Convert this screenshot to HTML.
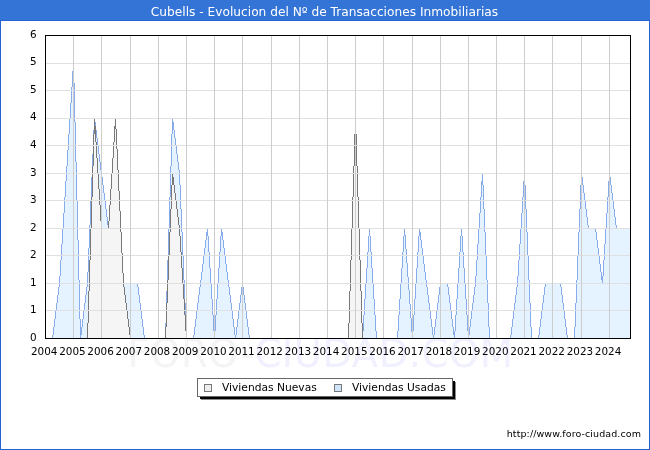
<!DOCTYPE html>
<html lang="es"><head><meta charset="utf-8"><title>Cubells - Evolucion del Nº de Transacciones Inmobiliarias</title>
<style>html,body{margin:0;padding:0;background:#fff}body{width:650px;height:450px;overflow:hidden}svg{display:block}text{font-family:"DejaVu Sans","Liberation Sans",sans-serif}</style>
</head><body>
<svg width="650" height="450" viewBox="0 0 650 450">
<rect x="0" y="0" width="650" height="450" fill="#ffffff"/>
<g font-size="38.5" letter-spacing="0.5"><text x="127.5" y="366.9"><tspan fill="#f4f4f6">FORO-</tspan><tspan fill="#f0f0ff">CIUDAD.COM</tspan></text></g>
<rect x="0" y="0" width="650" height="20" fill="#3574d7"/>
<rect x="0.5" y="20.5" width="649" height="429" fill="none" stroke="#2464d4" stroke-width="1" shape-rendering="crispEdges"/>
<text x="324.5" y="15.5" font-size="12.2" fill="#ffffff" text-anchor="middle">Cubells - Evolucion del Nº de Transacciones Inmobiliarias</text>
<g shape-rendering="crispEdges">
<path d="M52 335h1v3h-1zM53 327h1v11h-1zM54 319h1v19h-1zM55 311h1v27h-1zM56 303h1v35h-1zM57 295h1v43h-1zM58 287h1v51h-1zM59 276h1v62h-1zM60 260h1v78h-1zM61 244h1v94h-1zM62 228h1v110h-1zM63 213h1v125h-1zM64 197h1v141h-1zM65 181h1v157h-1zM66 166h1v172h-1zM67 150h1v188h-1zM68 134h1v204h-1zM69 118h1v220h-1zM70 103h1v235h-1zM71 87h1v251h-1zM72 71h1v267h-1zM73 63h1v275h-1zM74 83h1v255h-1zM75 122h1v216h-1zM76 162h1v176h-1zM77 201h1v137h-1zM78 240h1v98h-1zM79 280h1v58h-1zM80 319h1v19h-1zM81 327h1v11h-1zM82 319h1v19h-1zM83 311h1v27h-1zM84 303h1v35h-1zM85 295h1v43h-1zM86 287h1v51h-1zM87 272h1v66h-1zM88 248h1v90h-1zM89 225h1v113h-1zM90 201h1v137h-1zM91 177h1v161h-1zM92 154h1v184h-1zM93 130h1v208h-1zM94 118h1v220h-1zM95 122h1v216h-1zM96 130h1v208h-1zM97 138h1v200h-1zM98 146h1v192h-1zM99 154h1v184h-1zM100 162h1v176h-1zM101 170h1v168h-1zM102 177h1v161h-1zM103 185h1v153h-1zM104 193h1v145h-1zM105 201h1v137h-1zM106 209h1v129h-1zM107 217h1v121h-1zM108 225h1v113h-1zM109 228h1v110h-1zM110 228h1v110h-1zM111 228h1v110h-1zM112 228h1v110h-1zM113 228h1v110h-1zM114 228h1v110h-1zM115 228h1v110h-1zM116 232h1v106h-1zM117 239h1v99h-1zM118 246h1v92h-1zM119 253h1v85h-1zM120 259h1v79h-1zM121 266h1v72h-1zM122 273h1v65h-1zM123 280h1v58h-1zM124 283h1v55h-1zM125 283h1v55h-1zM126 283h1v55h-1zM127 283h1v55h-1zM128 283h1v55h-1zM129 283h1v55h-1zM130 283h1v55h-1zM131 283h1v55h-1zM132 283h1v55h-1zM133 283h1v55h-1zM134 283h1v55h-1zM135 283h1v55h-1zM136 283h1v55h-1zM137 283h1v55h-1zM138 287h1v51h-1zM139 295h1v43h-1zM140 303h1v35h-1zM141 311h1v27h-1zM142 319h1v19h-1zM143 327h1v11h-1zM144 335h1v3h-1zM165 323h1v15h-1zM166 291h1v47h-1zM167 260h1v78h-1zM168 228h1v110h-1zM169 197h1v141h-1zM170 166h1v172h-1zM171 134h1v204h-1zM172 118h1v220h-1zM173 122h1v216h-1zM174 130h1v208h-1zM175 138h1v200h-1zM176 146h1v192h-1zM177 154h1v184h-1zM178 162h1v176h-1zM179 170h1v168h-1zM180 185h1v153h-1zM181 209h1v129h-1zM182 232h1v106h-1zM183 256h1v82h-1zM184 280h1v58h-1zM185 303h1v35h-1zM186 327h1v11h-1zM193 335h1v3h-1zM194 327h1v11h-1zM195 319h1v19h-1zM196 311h1v27h-1zM197 303h1v35h-1zM198 295h1v43h-1zM199 287h1v51h-1zM200 280h1v58h-1zM201 272h1v66h-1zM202 264h1v74h-1zM203 256h1v82h-1zM204 248h1v90h-1zM205 240h1v98h-1zM206 232h1v106h-1zM207 228h1v110h-1zM208 236h1v102h-1zM209 252h1v86h-1zM210 268h1v70h-1zM211 283h1v55h-1zM212 299h1v39h-1zM213 315h1v23h-1zM214 331h1v7h-1zM215 315h1v23h-1zM216 299h1v39h-1zM217 283h1v55h-1zM218 268h1v70h-1zM219 252h1v86h-1zM220 236h1v102h-1zM221 228h1v110h-1zM222 232h1v106h-1zM223 240h1v98h-1zM224 248h1v90h-1zM225 256h1v82h-1zM226 264h1v74h-1zM227 272h1v66h-1zM228 280h1v58h-1zM229 287h1v51h-1zM230 295h1v43h-1zM231 303h1v35h-1zM232 311h1v27h-1zM233 319h1v19h-1zM234 327h1v11h-1zM235 335h1v3h-1zM236 327h1v11h-1zM237 319h1v19h-1zM238 311h1v27h-1zM239 303h1v35h-1zM240 295h1v43h-1zM241 287h1v51h-1zM242 283h1v55h-1zM243 287h1v51h-1zM244 295h1v43h-1zM245 303h1v35h-1zM246 311h1v27h-1zM247 319h1v19h-1zM248 327h1v11h-1zM249 335h1v3h-1zM362 331h1v7h-1zM363 315h1v23h-1zM364 299h1v39h-1zM365 283h1v55h-1zM366 268h1v70h-1zM367 252h1v86h-1zM368 236h1v102h-1zM369 228h1v110h-1zM370 236h1v102h-1zM371 252h1v86h-1zM372 268h1v70h-1zM373 283h1v55h-1zM374 299h1v39h-1zM375 315h1v23h-1zM376 331h1v7h-1zM397 331h1v7h-1zM398 315h1v23h-1zM399 299h1v39h-1zM400 283h1v55h-1zM401 268h1v70h-1zM402 252h1v86h-1zM403 236h1v102h-1zM404 228h1v110h-1zM405 235h1v103h-1zM406 249h1v89h-1zM407 263h1v75h-1zM408 277h1v61h-1zM409 290h1v48h-1zM410 304h1v34h-1zM411 318h1v20h-1zM412 331h1v7h-1zM413 315h1v23h-1zM414 299h1v39h-1zM415 283h1v55h-1zM416 268h1v70h-1zM417 252h1v86h-1zM418 236h1v102h-1zM419 228h1v110h-1zM420 232h1v106h-1zM421 240h1v98h-1zM422 248h1v90h-1zM423 256h1v82h-1zM424 264h1v74h-1zM425 272h1v66h-1zM426 280h1v58h-1zM427 287h1v51h-1zM428 295h1v43h-1zM429 303h1v35h-1zM430 311h1v27h-1zM431 319h1v19h-1zM432 327h1v11h-1zM433 335h1v3h-1zM434 327h1v11h-1zM435 319h1v19h-1zM436 311h1v27h-1zM437 303h1v35h-1zM438 295h1v43h-1zM439 287h1v51h-1zM440 283h1v55h-1zM441 283h1v55h-1zM442 283h1v55h-1zM443 283h1v55h-1zM444 283h1v55h-1zM445 283h1v55h-1zM446 283h1v55h-1zM447 283h1v55h-1zM448 287h1v51h-1zM449 295h1v43h-1zM450 303h1v35h-1zM451 311h1v27h-1zM452 319h1v19h-1zM453 327h1v11h-1zM454 331h1v7h-1zM455 315h1v23h-1zM456 299h1v39h-1zM457 283h1v55h-1zM458 268h1v70h-1zM459 252h1v86h-1zM460 236h1v102h-1zM461 228h1v110h-1zM462 236h1v102h-1zM463 252h1v86h-1zM464 268h1v70h-1zM465 283h1v55h-1zM466 299h1v39h-1zM467 315h1v23h-1zM468 331h1v7h-1zM469 327h1v11h-1zM470 319h1v19h-1zM471 311h1v27h-1zM472 303h1v35h-1zM473 295h1v43h-1zM474 287h1v51h-1zM475 276h1v62h-1zM476 260h1v78h-1zM477 244h1v94h-1zM478 228h1v110h-1zM479 213h1v125h-1zM480 197h1v141h-1zM481 181h1v157h-1zM482 173h1v165h-1zM483 185h1v153h-1zM484 209h1v129h-1zM485 232h1v106h-1zM486 256h1v82h-1zM487 280h1v58h-1zM488 303h1v35h-1zM489 327h1v11h-1zM510 335h1v3h-1zM511 327h1v11h-1zM512 319h1v19h-1zM513 311h1v27h-1zM514 303h1v35h-1zM515 295h1v43h-1zM516 287h1v51h-1zM517 276h1v62h-1zM518 260h1v78h-1zM519 244h1v94h-1zM520 228h1v110h-1zM521 213h1v125h-1zM522 197h1v141h-1zM523 181h1v157h-1zM524 173h1v165h-1zM525 185h1v153h-1zM526 209h1v129h-1zM527 232h1v106h-1zM528 256h1v82h-1zM529 280h1v58h-1zM530 303h1v35h-1zM531 327h1v11h-1zM538 335h1v3h-1zM539 327h1v11h-1zM540 319h1v19h-1zM541 311h1v27h-1zM542 303h1v35h-1zM543 295h1v43h-1zM544 287h1v51h-1zM545 283h1v55h-1zM546 283h1v55h-1zM547 283h1v55h-1zM548 283h1v55h-1zM549 283h1v55h-1zM550 283h1v55h-1zM551 283h1v55h-1zM552 283h1v55h-1zM553 283h1v55h-1zM554 283h1v55h-1zM555 283h1v55h-1zM556 283h1v55h-1zM557 283h1v55h-1zM558 283h1v55h-1zM559 283h1v55h-1zM560 283h1v55h-1zM561 287h1v51h-1zM562 295h1v43h-1zM563 303h1v35h-1zM564 311h1v27h-1zM565 319h1v19h-1zM566 327h1v11h-1zM567 335h1v3h-1zM574 327h1v11h-1zM575 303h1v35h-1zM576 280h1v58h-1zM577 256h1v82h-1zM578 232h1v106h-1zM579 209h1v129h-1zM580 185h1v153h-1zM581 173h1v165h-1zM582 177h1v161h-1zM583 185h1v153h-1zM584 193h1v145h-1zM585 201h1v137h-1zM586 209h1v129h-1zM587 217h1v121h-1zM588 225h1v113h-1zM589 228h1v110h-1zM590 228h1v110h-1zM591 228h1v110h-1zM592 228h1v110h-1zM593 228h1v110h-1zM594 228h1v110h-1zM595 228h1v110h-1zM596 232h1v106h-1zM597 240h1v98h-1zM598 248h1v90h-1zM599 256h1v82h-1zM600 264h1v74h-1zM601 272h1v66h-1zM602 276h1v62h-1zM603 260h1v78h-1zM604 244h1v94h-1zM605 228h1v110h-1zM606 213h1v125h-1zM607 197h1v141h-1zM608 181h1v157h-1zM609 173h1v165h-1zM610 177h1v161h-1zM611 185h1v153h-1zM612 193h1v145h-1zM613 201h1v137h-1zM614 209h1v129h-1zM615 217h1v121h-1zM616 225h1v113h-1zM617 228h1v110h-1zM618 228h1v110h-1zM619 228h1v110h-1zM620 228h1v110h-1zM621 228h1v110h-1zM622 228h1v110h-1zM623 228h1v110h-1zM624 228h1v110h-1zM625 228h1v110h-1zM626 228h1v110h-1zM627 228h1v110h-1zM628 228h1v110h-1zM629 228h1v110h-1zM630 228h1v110h-1z" fill="#e5f2ff"/>
<path d="M52 335h1v4h-1zM53 327h1v8h-1zM54 319h1v8h-1zM55 311h1v8h-1zM56 303h1v8h-1zM57 295h1v8h-1zM58 287h1v8h-1zM59 276h1v11h-1zM60 260h1v16h-1zM61 244h1v16h-1zM62 228h1v16h-1zM63 213h1v15h-1zM64 197h1v16h-1zM65 181h1v16h-1zM66 166h1v15h-1zM67 150h1v16h-1zM68 134h1v16h-1zM69 118h1v16h-1zM70 103h1v15h-1zM71 87h1v16h-1zM72 71h1v16h-1zM73 63h1v20h-1zM74 83h1v39h-1zM75 122h1v40h-1zM76 162h1v39h-1zM77 201h1v39h-1zM78 240h1v40h-1zM79 280h1v39h-1zM80 319h1v20h-1zM81 327h1v8h-1zM82 319h1v8h-1zM83 311h1v8h-1zM84 303h1v8h-1zM85 295h1v8h-1zM86 287h1v8h-1zM87 272h1v15h-1zM88 248h1v24h-1zM89 225h1v23h-1zM90 201h1v24h-1zM91 177h1v24h-1zM92 154h1v23h-1zM93 130h1v24h-1zM94 118h1v12h-1zM95 122h1v8h-1zM96 130h1v8h-1zM97 138h1v8h-1zM98 146h1v8h-1zM99 154h1v8h-1zM100 162h1v8h-1zM101 170h1v7h-1zM102 177h1v8h-1zM103 185h1v8h-1zM104 193h1v8h-1zM105 201h1v8h-1zM106 209h1v8h-1zM107 217h1v8h-1zM108 225h1v4h-1zM109 228h1v1h-1zM110 228h1v1h-1zM111 228h1v1h-1zM112 228h1v1h-1zM113 228h1v1h-1zM114 228h1v1h-1zM115 228h1v4h-1zM116 232h1v7h-1zM117 239h1v7h-1zM118 246h1v7h-1zM119 253h1v6h-1zM120 259h1v7h-1zM121 266h1v7h-1zM122 273h1v7h-1zM123 280h1v4h-1zM124 283h1v1h-1zM125 283h1v1h-1zM126 283h1v1h-1zM127 283h1v1h-1zM128 283h1v1h-1zM129 283h1v1h-1zM130 283h1v1h-1zM131 283h1v1h-1zM132 283h1v1h-1zM133 283h1v1h-1zM134 283h1v1h-1zM135 283h1v1h-1zM136 283h1v1h-1zM137 283h1v4h-1zM138 287h1v8h-1zM139 295h1v8h-1zM140 303h1v8h-1zM141 311h1v8h-1zM142 319h1v8h-1zM143 327h1v8h-1zM144 335h1v4h-1zM165 323h1v16h-1zM166 291h1v32h-1zM167 260h1v31h-1zM168 228h1v32h-1zM169 197h1v31h-1zM170 166h1v31h-1zM171 134h1v32h-1zM172 118h1v16h-1zM173 122h1v8h-1zM174 130h1v8h-1zM175 138h1v8h-1zM176 146h1v8h-1zM177 154h1v8h-1zM178 162h1v8h-1zM179 170h1v15h-1zM180 185h1v24h-1zM181 209h1v23h-1zM182 232h1v24h-1zM183 256h1v24h-1zM184 280h1v23h-1zM185 303h1v24h-1zM186 327h1v12h-1zM193 335h1v4h-1zM194 327h1v8h-1zM195 319h1v8h-1zM196 311h1v8h-1zM197 303h1v8h-1zM198 295h1v8h-1zM199 287h1v8h-1zM200 280h1v7h-1zM201 272h1v8h-1zM202 264h1v8h-1zM203 256h1v8h-1zM204 248h1v8h-1zM205 240h1v8h-1zM206 232h1v8h-1zM207 228h1v8h-1zM208 236h1v16h-1zM209 252h1v16h-1zM210 268h1v15h-1zM211 283h1v16h-1zM212 299h1v16h-1zM213 315h1v16h-1zM214 331h1v8h-1zM215 315h1v16h-1zM216 299h1v16h-1zM217 283h1v16h-1zM218 268h1v15h-1zM219 252h1v16h-1zM220 236h1v16h-1zM221 228h1v8h-1zM222 232h1v8h-1zM223 240h1v8h-1zM224 248h1v8h-1zM225 256h1v8h-1zM226 264h1v8h-1zM227 272h1v8h-1zM228 280h1v7h-1zM229 287h1v8h-1zM230 295h1v8h-1zM231 303h1v8h-1zM232 311h1v8h-1zM233 319h1v8h-1zM234 327h1v8h-1zM235 335h1v4h-1zM236 327h1v8h-1zM237 319h1v8h-1zM238 311h1v8h-1zM239 303h1v8h-1zM240 295h1v8h-1zM241 287h1v8h-1zM242 283h1v4h-1zM243 287h1v8h-1zM244 295h1v8h-1zM245 303h1v8h-1zM246 311h1v8h-1zM247 319h1v8h-1zM248 327h1v8h-1zM249 335h1v4h-1zM362 331h1v8h-1zM363 315h1v16h-1zM364 299h1v16h-1zM365 283h1v16h-1zM366 268h1v15h-1zM367 252h1v16h-1zM368 236h1v16h-1zM369 228h1v8h-1zM370 236h1v16h-1zM371 252h1v16h-1zM372 268h1v15h-1zM373 283h1v16h-1zM374 299h1v16h-1zM375 315h1v16h-1zM376 331h1v8h-1zM397 331h1v8h-1zM398 315h1v16h-1zM399 299h1v16h-1zM400 283h1v16h-1zM401 268h1v15h-1zM402 252h1v16h-1zM403 236h1v16h-1zM404 228h1v8h-1zM405 235h1v14h-1zM406 249h1v14h-1zM407 263h1v14h-1zM408 277h1v13h-1zM409 290h1v14h-1zM410 304h1v14h-1zM411 318h1v14h-1zM412 331h1v8h-1zM413 315h1v16h-1zM414 299h1v16h-1zM415 283h1v16h-1zM416 268h1v15h-1zM417 252h1v16h-1zM418 236h1v16h-1zM419 228h1v8h-1zM420 232h1v8h-1zM421 240h1v8h-1zM422 248h1v8h-1zM423 256h1v8h-1zM424 264h1v8h-1zM425 272h1v8h-1zM426 280h1v7h-1zM427 287h1v8h-1zM428 295h1v8h-1zM429 303h1v8h-1zM430 311h1v8h-1zM431 319h1v8h-1zM432 327h1v8h-1zM433 335h1v4h-1zM434 327h1v8h-1zM435 319h1v8h-1zM436 311h1v8h-1zM437 303h1v8h-1zM438 295h1v8h-1zM439 287h1v8h-1zM440 283h1v4h-1zM441 283h1v1h-1zM442 283h1v1h-1zM443 283h1v1h-1zM444 283h1v1h-1zM445 283h1v1h-1zM446 283h1v1h-1zM447 283h1v4h-1zM448 287h1v8h-1zM449 295h1v8h-1zM450 303h1v8h-1zM451 311h1v8h-1zM452 319h1v8h-1zM453 327h1v8h-1zM454 331h1v8h-1zM455 315h1v16h-1zM456 299h1v16h-1zM457 283h1v16h-1zM458 268h1v15h-1zM459 252h1v16h-1zM460 236h1v16h-1zM461 228h1v8h-1zM462 236h1v16h-1zM463 252h1v16h-1zM464 268h1v15h-1zM465 283h1v16h-1zM466 299h1v16h-1zM467 315h1v16h-1zM468 331h1v8h-1zM469 327h1v8h-1zM470 319h1v8h-1zM471 311h1v8h-1zM472 303h1v8h-1zM473 295h1v8h-1zM474 287h1v8h-1zM475 276h1v11h-1zM476 260h1v16h-1zM477 244h1v16h-1zM478 228h1v16h-1zM479 213h1v15h-1zM480 197h1v16h-1zM481 181h1v16h-1zM482 173h1v12h-1zM483 185h1v24h-1zM484 209h1v23h-1zM485 232h1v24h-1zM486 256h1v24h-1zM487 280h1v23h-1zM488 303h1v24h-1zM489 327h1v12h-1zM510 335h1v4h-1zM511 327h1v8h-1zM512 319h1v8h-1zM513 311h1v8h-1zM514 303h1v8h-1zM515 295h1v8h-1zM516 287h1v8h-1zM517 276h1v11h-1zM518 260h1v16h-1zM519 244h1v16h-1zM520 228h1v16h-1zM521 213h1v15h-1zM522 197h1v16h-1zM523 181h1v16h-1zM524 173h1v12h-1zM525 185h1v24h-1zM526 209h1v23h-1zM527 232h1v24h-1zM528 256h1v24h-1zM529 280h1v23h-1zM530 303h1v24h-1zM531 327h1v12h-1zM538 335h1v4h-1zM539 327h1v8h-1zM540 319h1v8h-1zM541 311h1v8h-1zM542 303h1v8h-1zM543 295h1v8h-1zM544 287h1v8h-1zM545 283h1v4h-1zM546 283h1v1h-1zM547 283h1v1h-1zM548 283h1v1h-1zM549 283h1v1h-1zM550 283h1v1h-1zM551 283h1v1h-1zM552 283h1v1h-1zM553 283h1v1h-1zM554 283h1v1h-1zM555 283h1v1h-1zM556 283h1v1h-1zM557 283h1v1h-1zM558 283h1v1h-1zM559 283h1v1h-1zM560 283h1v4h-1zM561 287h1v8h-1zM562 295h1v8h-1zM563 303h1v8h-1zM564 311h1v8h-1zM565 319h1v8h-1zM566 327h1v8h-1zM567 335h1v4h-1zM574 327h1v12h-1zM575 303h1v24h-1zM576 280h1v23h-1zM577 256h1v24h-1zM578 232h1v24h-1zM579 209h1v23h-1zM580 185h1v24h-1zM581 173h1v12h-1zM582 177h1v8h-1zM583 185h1v8h-1zM584 193h1v8h-1zM585 201h1v8h-1zM586 209h1v8h-1zM587 217h1v8h-1zM588 225h1v4h-1zM589 228h1v1h-1zM590 228h1v1h-1zM591 228h1v1h-1zM592 228h1v1h-1zM593 228h1v1h-1zM594 228h1v1h-1zM595 228h1v4h-1zM596 232h1v8h-1zM597 240h1v8h-1zM598 248h1v8h-1zM599 256h1v8h-1zM600 264h1v8h-1zM601 272h1v8h-1zM602 276h1v8h-1zM603 260h1v16h-1zM604 244h1v16h-1zM605 228h1v16h-1zM606 213h1v15h-1zM607 197h1v16h-1zM608 181h1v16h-1zM609 173h1v8h-1zM610 177h1v8h-1zM611 185h1v8h-1zM612 193h1v8h-1zM613 201h1v8h-1zM614 209h1v8h-1zM615 217h1v8h-1zM616 225h1v4h-1zM617 228h1v1h-1zM618 228h1v1h-1zM619 228h1v1h-1zM620 228h1v1h-1zM621 228h1v1h-1zM622 228h1v1h-1zM623 228h1v1h-1zM624 228h1v1h-1zM625 228h1v1h-1zM626 228h1v1h-1zM627 228h1v1h-1zM628 228h1v1h-1zM629 228h1v1h-1zM630 228h1v1h-1z" fill="#88acea"/>
<path d="M87 323h1v15h-1zM88 291h1v47h-1zM89 260h1v78h-1zM90 228h1v110h-1zM91 197h1v141h-1zM92 166h1v172h-1zM93 134h1v204h-1zM94 118h1v220h-1zM95 126h1v212h-1zM96 142h1v196h-1zM97 158h1v180h-1zM98 173h1v165h-1zM99 189h1v149h-1zM100 205h1v133h-1zM101 221h1v117h-1zM102 228h1v110h-1zM103 228h1v110h-1zM104 228h1v110h-1zM105 228h1v110h-1zM106 228h1v110h-1zM107 228h1v110h-1zM108 221h1v117h-1zM109 205h1v133h-1zM110 189h1v149h-1zM111 173h1v165h-1zM112 158h1v180h-1zM113 142h1v196h-1zM114 126h1v212h-1zM115 118h1v220h-1zM116 129h1v209h-1zM117 149h1v189h-1zM118 170h1v168h-1zM119 191h1v147h-1zM120 211h1v127h-1zM121 232h1v106h-1zM122 253h1v85h-1zM123 273h1v65h-1zM124 287h1v51h-1zM125 295h1v43h-1zM126 303h1v35h-1zM127 311h1v27h-1zM128 319h1v19h-1zM129 327h1v11h-1zM130 335h1v3h-1zM165 327h1v11h-1zM166 303h1v35h-1zM167 280h1v58h-1zM168 256h1v82h-1zM169 232h1v106h-1zM170 209h1v129h-1zM171 185h1v153h-1zM172 173h1v165h-1zM173 177h1v161h-1zM174 185h1v153h-1zM175 193h1v145h-1zM176 201h1v137h-1zM177 209h1v129h-1zM178 217h1v121h-1zM179 225h1v113h-1zM180 236h1v102h-1zM181 252h1v86h-1zM182 268h1v70h-1zM183 283h1v55h-1zM184 299h1v39h-1zM185 315h1v23h-1zM186 331h1v7h-1zM348 323h1v15h-1zM349 291h1v47h-1zM350 260h1v78h-1zM351 228h1v110h-1zM352 197h1v141h-1zM353 166h1v172h-1zM354 134h1v204h-1zM355 118h1v220h-1zM356 134h1v204h-1zM357 166h1v172h-1zM358 197h1v141h-1zM359 228h1v110h-1zM360 260h1v78h-1zM361 291h1v47h-1zM362 323h1v15h-1z" fill="#f5f5f5"/>
<path d="M87 323h1v16h-1zM88 291h1v32h-1zM89 260h1v31h-1zM90 228h1v32h-1zM91 197h1v31h-1zM92 166h1v31h-1zM93 134h1v32h-1zM94 118h1v16h-1zM95 126h1v16h-1zM96 142h1v16h-1zM97 158h1v15h-1zM98 173h1v16h-1zM99 189h1v16h-1zM100 205h1v16h-1zM101 221h1v8h-1zM102 228h1v1h-1zM103 228h1v1h-1zM104 228h1v1h-1zM105 228h1v1h-1zM106 228h1v1h-1zM107 228h1v1h-1zM108 221h1v8h-1zM109 205h1v16h-1zM110 189h1v16h-1zM111 173h1v16h-1zM112 158h1v15h-1zM113 142h1v16h-1zM114 126h1v16h-1zM115 118h1v11h-1zM116 129h1v20h-1zM117 149h1v21h-1zM118 170h1v21h-1zM119 191h1v20h-1zM120 211h1v21h-1zM121 232h1v21h-1zM122 253h1v20h-1zM123 273h1v14h-1zM124 287h1v8h-1zM125 295h1v8h-1zM126 303h1v8h-1zM127 311h1v8h-1zM128 319h1v8h-1zM129 327h1v8h-1zM130 335h1v4h-1zM165 327h1v12h-1zM166 303h1v24h-1zM167 280h1v23h-1zM168 256h1v24h-1zM169 232h1v24h-1zM170 209h1v23h-1zM171 185h1v24h-1zM172 173h1v12h-1zM173 177h1v8h-1zM174 185h1v8h-1zM175 193h1v8h-1zM176 201h1v8h-1zM177 209h1v8h-1zM178 217h1v8h-1zM179 225h1v11h-1zM180 236h1v16h-1zM181 252h1v16h-1zM182 268h1v15h-1zM183 283h1v16h-1zM184 299h1v16h-1zM185 315h1v16h-1zM186 331h1v8h-1zM348 323h1v16h-1zM349 291h1v32h-1zM350 260h1v31h-1zM351 228h1v32h-1zM352 197h1v31h-1zM353 166h1v31h-1zM354 134h1v32h-1zM355 118h1v16h-1zM356 134h1v32h-1zM357 166h1v31h-1zM358 197h1v31h-1zM359 228h1v32h-1zM360 260h1v31h-1zM361 291h1v32h-1zM362 323h1v16h-1z" fill="#787878"/>
<g fill="#e0e0e0"><rect x="46" y="310" width="584" height="1" /><rect x="46" y="283" width="584" height="1" /><rect x="46" y="255" width="584" height="1" /><rect x="46" y="228" width="584" height="1" /><rect x="46" y="200" width="584" height="1" /><rect x="46" y="173" width="584" height="1" /><rect x="46" y="145" width="584" height="1" /><rect x="46" y="118" width="584" height="1" /><rect x="46" y="90" width="584" height="1" /><rect x="46" y="63" width="584" height="1" /></g>
<g fill="#cdcdcd"><rect x="73" y="36" width="1" height="302" /><rect x="101" y="36" width="1" height="302" /><rect x="130" y="36" width="1" height="302" /><rect x="158" y="36" width="1" height="302" /><rect x="186" y="36" width="1" height="302" /><rect x="214" y="36" width="1" height="302" /><rect x="242" y="36" width="1" height="302" /><rect x="271" y="36" width="1" height="302" /><rect x="299" y="36" width="1" height="302" /><rect x="327" y="36" width="1" height="302" /><rect x="355" y="36" width="1" height="302" /><rect x="383" y="36" width="1" height="302" /><rect x="412" y="36" width="1" height="302" /><rect x="440" y="36" width="1" height="302" /><rect x="468" y="36" width="1" height="302" /><rect x="496" y="36" width="1" height="302" /><rect x="524" y="36" width="1" height="302" /><rect x="552" y="36" width="1" height="302" /><rect x="581" y="36" width="1" height="302" /><rect x="609" y="36" width="1" height="302" /></g>
<rect x="45.5" y="35.5" width="585" height="303" fill="none" stroke="#000000" stroke-width="1"/>
</g>
<g font-size="10.4" fill="#000000" text-anchor="end">
<text x="36.5" y="340.8">0</text>
<text x="36.5" y="313.3">1</text>
<text x="36.5" y="285.7">1</text>
<text x="36.5" y="258.2">2</text>
<text x="36.5" y="230.6">2</text>
<text x="36.5" y="203.1">3</text>
<text x="36.5" y="175.5">3</text>
<text x="36.5" y="148.0">4</text>
<text x="36.5" y="120.4">4</text>
<text x="36.5" y="92.9">5</text>
<text x="36.5" y="65.3">5</text>
<text x="36.5" y="37.8">6</text>
</g>
<g font-size="10.4" fill="#000000" text-anchor="middle">
<text x="44.2" y="354.5">2004</text>
<text x="72.4" y="354.5">2005</text>
<text x="100.6" y="354.5">2006</text>
<text x="128.8" y="354.5">2007</text>
<text x="157.0" y="354.5">2008</text>
<text x="185.2" y="354.5">2009</text>
<text x="213.4" y="354.5">2010</text>
<text x="241.5" y="354.5">2011</text>
<text x="269.7" y="354.5">2012</text>
<text x="297.9" y="354.5">2013</text>
<text x="326.1" y="354.5">2014</text>
<text x="354.3" y="354.5">2015</text>
<text x="382.5" y="354.5">2016</text>
<text x="410.7" y="354.5">2017</text>
<text x="438.9" y="354.5">2018</text>
<text x="467.1" y="354.5">2019</text>
<text x="495.3" y="354.5">2020</text>
<text x="523.5" y="354.5">2021</text>
<text x="551.7" y="354.5">2022</text>
<text x="579.9" y="354.5">2023</text>
<text x="608.1" y="354.5">2024</text>
</g>
<g shape-rendering="crispEdges">
<rect x="201" y="382" width="255" height="18" fill="#8c8c8c"/>
<rect x="200" y="381" width="255" height="18" fill="#000000"/>
<rect x="197.5" y="378.5" width="255" height="18" fill="#ffffff" stroke="#666666" stroke-width="1"/>
<rect x="204.5" y="384.5" width="7" height="7" fill="#eeeeee" stroke="#777777"/>
<rect x="334.5" y="384.5" width="7" height="7" fill="#cfe5fb" stroke="#777777"/>
</g>
<g font-size="10.7" fill="#000000"><text x="222" y="391">Viviendas Nuevas</text><text x="352" y="391">Viviendas Usadas</text></g>
<text x="641" y="436.6" font-size="9.5" letter-spacing="0.09" fill="#000000" text-anchor="end">http://www.foro-ciudad.com</text>
</svg>
</body></html>
